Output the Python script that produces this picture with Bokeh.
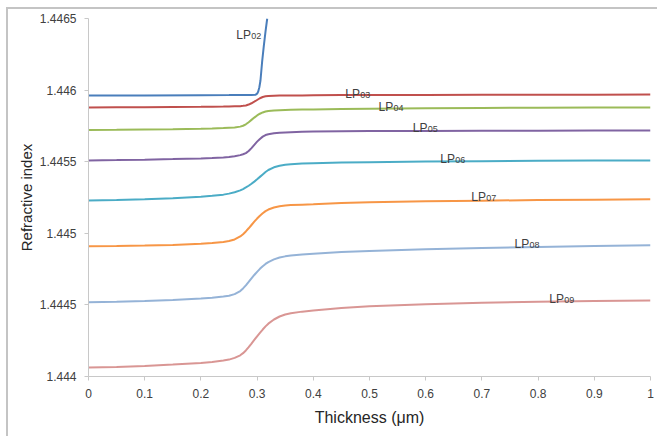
from bokeh.plotting import figure
from bokeh.models import FixedTicker, CustomJSTickFormatter, ColumnDataSource, InlineStyleSheet
from bokeh.core.properties import value
from bokeh.embed import file_html
from bokeh.resources import INLINE

# ---- data ----
x_grid = [0, 0.05, 0.1, 0.15, 0.2, 0.22, 0.24, 0.25, 0.26, 0.27, 0.275, 0.28, 0.285, 0.29,
          0.295, 0.30, 0.305, 0.31, 0.315, 0.32, 0.33, 0.34, 0.35, 0.36, 0.38, 0.40, 0.45,
          0.5, 0.6, 0.7, 0.8, 0.9, 1.0]

lp02_x = [0, 0.1, 0.2, 0.25, 0.28, 0.29, 0.297, 0.300, 0.302, 0.304, 0.306, 0.309, 0.312, 0.315, 0.318]
lp02_y = [1.445963, 1.445963, 1.445964, 1.445965, 1.445966, 1.445966, 1.445967, 1.445975, 1.445990,
          1.446020, 1.446067, 1.446200, 1.446310, 1.446410, 1.446500]

lp03 = [1.445879, 1.445880, 1.445881, 1.445882, 1.445883, 1.445884, 1.445885, 1.445886, 1.445887,
        1.445888, 1.445890, 1.445893, 1.445899, 1.445908, 1.445919, 1.445931, 1.445943, 1.445952,
        1.445957, 1.445959, 1.445961, 1.445962, 1.445962, 1.445963, 1.445963, 1.445964, 1.445965,
        1.445965, 1.445966, 1.445967, 1.445968, 1.445968, 1.445969]
lp04 = [1.445722, 1.445723, 1.445725, 1.445727, 1.445730, 1.445732, 1.445735, 1.445737, 1.445739,
        1.445745, 1.445751, 1.445761, 1.445776, 1.445792, 1.445808, 1.445823, 1.445835, 1.445844,
        1.445850, 1.445854, 1.445858, 1.445860, 1.445861, 1.445862, 1.445864, 1.445865, 1.445868,
        1.445870, 1.445873, 1.445875, 1.445877, 1.445878, 1.445879]
lp05 = [1.445509, 1.445511, 1.445514, 1.445518, 1.445523, 1.445526, 1.445530, 1.445533, 1.445538,
        1.445546, 1.445552, 1.445560, 1.445575, 1.445595, 1.445618, 1.445640, 1.445659, 1.445675,
        1.445686, 1.445692, 1.445698, 1.445702, 1.445704, 1.445706, 1.445709, 1.445711, 1.445713,
        1.445714, 1.445715, 1.445716, 1.445717, 1.445718, 1.445718]
lp06 = [1.445229, 1.445233, 1.445238, 1.445245, 1.445256, 1.445262, 1.445270, 1.445277, 1.445287,
        1.445300, 1.445309, 1.445320, 1.445332, 1.445346, 1.445361, 1.445377, 1.445394, 1.445411,
        1.445428, 1.445442, 1.445461, 1.445472, 1.445479, 1.445483, 1.445487, 1.445490, 1.445494,
        1.445497, 1.445501, 1.445504, 1.445506, 1.445508, 1.445509]
lp07 = [1.444909, 1.444911, 1.444914, 1.444919, 1.444927, 1.444932, 1.444940, 1.444946, 1.444957,
        1.444978, 1.444994, 1.445013, 1.445035, 1.445058, 1.445081, 1.445103, 1.445123, 1.445140,
        1.445155, 1.445166, 1.445180, 1.445189, 1.445194, 1.445197, 1.445200, 1.445203, 1.445211,
        1.445216, 1.445223, 1.445228, 1.445232, 1.445235, 1.445237]
lp08 = [1.444518, 1.444522, 1.444527, 1.444535, 1.444545, 1.444550, 1.444558, 1.444564, 1.444575,
        1.444597, 1.444615, 1.444636, 1.444660, 1.444685, 1.444709, 1.444731, 1.444752, 1.444770,
        1.444786, 1.444799, 1.444818, 1.444831, 1.444839, 1.444845, 1.444852, 1.444858, 1.444869,
        1.444877, 1.444889, 1.444898, 1.444905, 1.444911, 1.444916]
lp09 = [1.444063, 1.444066, 1.444073, 1.444083, 1.444095, 1.444102, 1.444111, 1.444118, 1.444130,
        1.444148, 1.444163, 1.444182, 1.444205, 1.444230, 1.444256, 1.444281, 1.444305, 1.444328,
        1.444350, 1.444369, 1.444398, 1.444419, 1.444433, 1.444442, 1.444453, 1.444461, 1.444478,
        1.444490, 1.444505, 1.444515, 1.444522, 1.444527, 1.444531]

series_names = ["02", "03", "04", "05", "06", "07", "08", "09"]
series_colors = ["#4A7EBB", "#C0504D", "#9BBB59", "#8064A2", "#4BACC6", "#F79646", "#95B3D7", "#D99694"]

label_x = [0.263, 0.457, 0.516, 0.577, 0.626, 0.681, 0.758, 0.820]
label_y = [1.44641, 1.44600, 1.44591, 1.44576, 1.44555, 1.44528, 1.44495, 1.44457]

x_ticks = [0, 0.1, 0.2, 0.3, 0.4, 0.5, 0.6, 0.7, 0.8, 0.9, 1.0]
y_ticks = [1.444, 1.4445, 1.445, 1.4455, 1.446, 1.4465]

FONT = "Liberation Sans"

p = figure(width=651, height=429, x_range=(0, 1), y_range=(1.444, 1.4465),
           output_backend="svg", toolbar_location=None,
           min_border_left=80, min_border_right=9, min_border_top=9, min_border_bottom=62)
p.margin = (7, 0, 0, 6)
# outer chart-area frame (the reference shows only its top and left edges)
p.stylesheets = [InlineStyleSheet(css=":host { border-top: 2px solid #c4c4c4 !important; "
                                      "border-left: 2px solid #c4c4c4 !important; }")]
p.outline_line_color = None
p.grid.visible = False
p.background_fill_color = "white"
p.border_fill_color = "white"

p.line(lp02_x, lp02_y, line_color=series_colors[0], line_width=2)
for ys, c in zip([lp03, lp04, lp05, lp06, lp07, lp08, lp09], series_colors[1:]):
    p.line(x_grid, ys, line_color=c, line_width=2)

src = ColumnDataSource(dict(x=label_x, y=label_y, lp=["LP"] * len(series_names), sub=series_names))
p.text(x="x", y="y", text="lp", source=src, text_font=value(FONT), text_font_size="12px",
       text_color="#404040", text_align="left", text_baseline="alphabetic", y_offset=4)
p.text(x="x", y="y", text="sub", source=src, text_font=value(FONT), text_font_size="9px",
       text_color="#404040", text_align="left", text_baseline="alphabetic", x_offset=15, y_offset=5)

fmt = CustomJSTickFormatter(code="return String(parseFloat(tick.toFixed(4)));")
for ax, ticks in ((p.xaxis[0], x_ticks), (p.yaxis[0], y_ticks)):
    ax.ticker = FixedTicker(ticks=ticks)
    ax.formatter = fmt
    ax.minor_tick_line_color = None
    ax.major_tick_in = 0
    ax.major_tick_out = 4
    ax.axis_line_color = "#c8c8c8"
    ax.major_tick_line_color = "#c8c8c8"
    ax.major_label_text_font = FONT
    ax.major_label_text_font_size = "12px"
    ax.major_label_text_color = "#404040"
    ax.axis_label_text_font = FONT
    ax.axis_label_text_font_style = "normal"
    ax.axis_label_text_color = "#262626"

p.xaxis.axis_label = "Thickness (μm)"
p.xaxis.axis_label_text_font_size = "16px"
p.xaxis.major_label_standoff = 8
p.xaxis.axis_label_standoff = 8
p.yaxis.axis_label = "Refractive index"
p.yaxis.axis_label_text_font_size = "15px"
p.yaxis.major_label_standoff = 8
p.yaxis.axis_label_standoff = 2

open("out.html", "w").write(file_html(p, INLINE))
